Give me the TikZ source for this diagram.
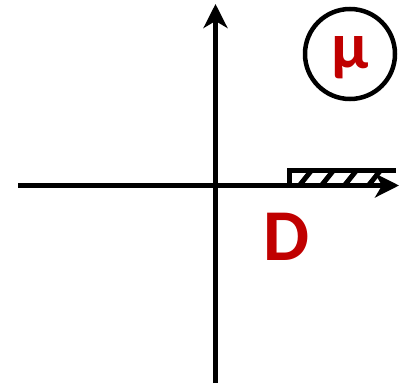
\documentclass[tikz,border=0pt]{standalone}
\usepackage{fontspec}
\newfontfamily\lab{Carlito}
\usetikzlibrary{arrows.meta}
\definecolor{dred}{RGB}{192,0,0}
\tikzset{
  axis/.style={line width=5pt,-{Stealth[length=24pt,width=24pt,inset=7pt]}},
  hatch/.style={line width=5pt},
  lbl/.style={text=dred,font=\lab\bfseries\fontsize{73}{73}\selectfont,inner sep=0pt}
}
\begin{document}
\begin{tikzpicture}[x=1pt,y=-1pt]
\useasboundingbox (0,0) rectangle (407,385);
\coordinate (xl) at (18,185.5);
\coordinate (xr) at (399,185.5);
\coordinate (yb) at (215.5,383);
\coordinate (yt) at (215.5,4);
% hatched strip
\draw[hatch] (289,188) -- (289,171) -- (396,171);
\foreach \x in {299,321,344,368}{
  \draw[line width=5pt] (\x,186) -- (\x+12,171);
}
\draw[axis] (xl) -- (xr);
\draw[axis] (yb) -- (yt);
\node[draw,circle,line width=4.5pt,minimum size=90pt,inner sep=0pt] (mu) at (350,54) {};
\node[lbl,font=\lab\bfseries\fontsize{66}{66}\selectfont] (mulab) at (350,58) {μ};
\node[lbl] (D) at (287,237) {D};
\end{tikzpicture}
\end{document}
